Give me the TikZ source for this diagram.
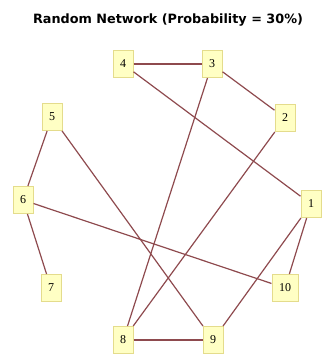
\documentclass[tikz,border=0pt]{standalone}
\usepackage{fontspec}
\setmainfont{Liberation Serif}
\newfontfamily\titlefont{DejaVu Sans}
\definecolor{boxfill}{HTML}{FFFFC4}
\definecolor{boxline}{HTML}{E4DC8C}
\definecolor{edgecol}{HTML}{8E4A4E}
\begin{document}
\begin{tikzpicture}[x=1pt,y=-1pt,
  vbox/.style={draw=boxline, fill=boxfill, line width=1pt, minimum width=20pt, minimum height=27pt, inner sep=1pt, font=\fontsize{12}{12}\selectfont},
  edge/.style={draw=edgecol, line width=1.2pt}]
\useasboundingbox (0,0) rectangle (323,355);
\node[font=\titlefont\bfseries\fontsize{12.8}{14}\selectfont] (title) at (168,20) {Random Network (Probability = 30\%)};
\node[vbox] (n1) at (311,204) {1};
\node[vbox] (n2) at (285,118) {2};
\node[vbox] (n3) at (212,64) {3};
\node[vbox] (n4) at (123,64) {4};
\node[vbox] (n5) at (52,117) {5};
\node[vbox] (n6) at (23,200) {6};
\node[vbox] (n7) at (51,288) {7};
\node[vbox] (n8) at (123,340) {8};
\node[vbox] (n9) at (213,340) {9};
\node[vbox, minimum width=26pt] (n10) at (285,288) {10};
\draw[edge] (n4) -- (n3);
\draw[edge] (n4) -- (n1);
\draw[edge] (n3) -- (n2);
\draw[edge] (n3) -- (n8);
\draw[edge] (n2) -- (n8);
\draw[edge] (n5) -- (n6);
\draw[edge] (n5) -- (n9);
\draw[edge] (n6) -- (n7);
\draw[edge] (n6) -- (n10);
\draw[edge] (n1) -- (n10);
\draw[edge] (n1) -- (n9);
\draw[edge] (n8) -- (n9);
\end{tikzpicture}
\end{document}
